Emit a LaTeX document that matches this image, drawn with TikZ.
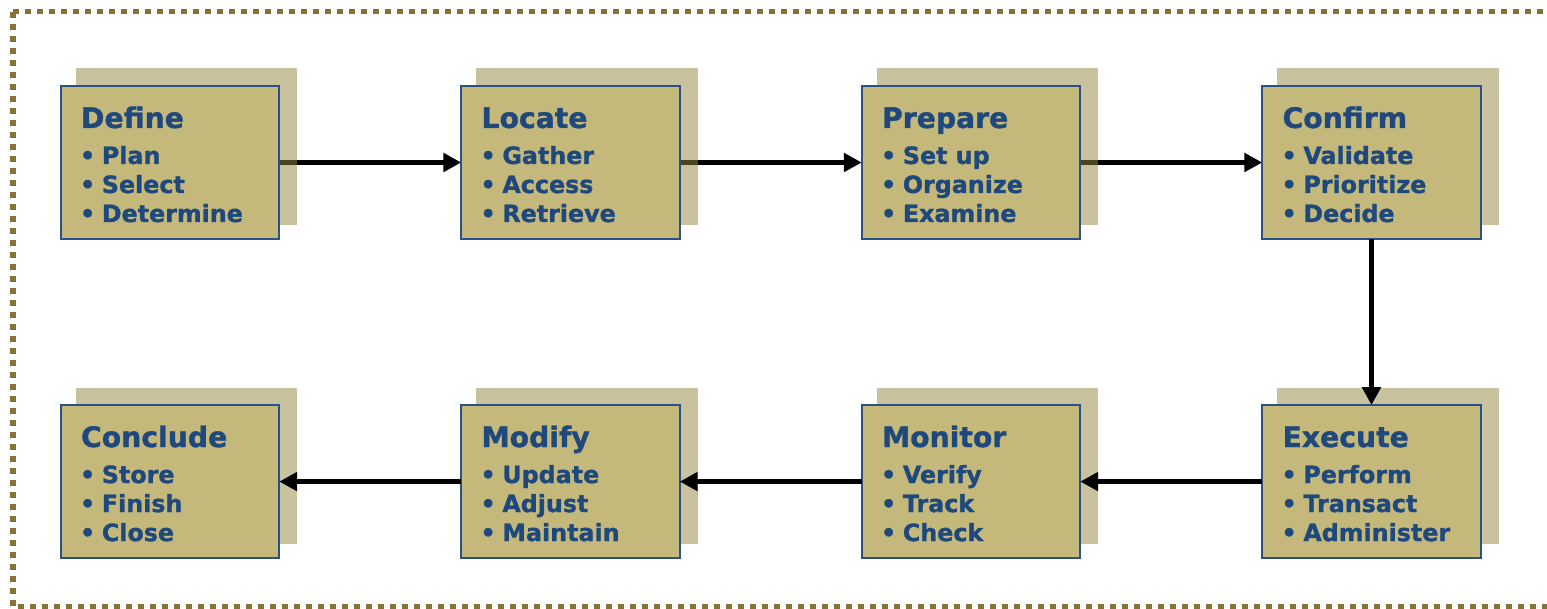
\documentclass[tikz,border=0pt]{standalone}
\usepackage{fontspec}
\setmainfont{DejaVu Sans}[BoldFeatures={FakeBold=1.2}]
\usetikzlibrary{arrows.meta}
\usetikzlibrary{positioning,calc}
\definecolor{stepFill}{RGB}{196,185,123}
\definecolor{stepShade}{RGB}{146,134,63}
\definecolor{stepBlue}{RGB}{43,82,135}
\definecolor{stepText}{RGB}{31,73,125}
\definecolor{frameBrown}{RGB}{133,114,54}
\pgfdeclarelayer{arrowlayer}
\pgfdeclarelayer{shadelayer}
\pgfsetlayers{arrowlayer,shadelayer,main}
\tikzset{stepBox/.style={rectangle,draw=stepBlue,line width=1.4pt,fill=stepFill,
		         minimum width=5.46cm,minimum height=3.825cm,inner sep=0pt,outer sep=0pt},
		stepShadow/.style={rectangle,fill=stepShade,fill opacity=0.5,
		         minimum width=5.525cm,minimum height=3.9cm,inner sep=0pt,outer sep=0pt},
		stepTitle/.style={anchor=base west,inner sep=0pt,text=stepText,
		         font=\fontsize{20.1}{24}\selectfont\bfseries},
		stepItem/.style={anchor=base west,inner sep=0pt,text=stepText,
		         font=\fontsize{16.9}{20}\selectfont\bfseries},
		Dedge/.style={-{Triangle[length=12.8pt,width=13pt]},line width=3.6pt},
		frameLine/.style={draw=frameBrown,line width=0.125cm,dash pattern=on 0.15cm off 0.15cm},
		every node/.style={align=left}}
% title, three items and the shadow of one box
\newcommand{\stepText}[5]{%
	\node[stepTitle] (#1-title) at ($(#1.north west)+(20,42)$) {#2};
	\node[stepItem] (#1-a) at ($(#1.north west)+(19,78)$) {•\hspace{0.28em}#3};
	\node[stepItem] (#1-b) at ($(#1.north west)+(19,107)$) {•\hspace{0.28em}#4};
	\node[stepItem] (#1-c) at ($(#1.north west)+(19,136)$) {•\hspace{0.28em}#5};
	\begin{pgfonlayer}{shadelayer}
		\node[stepShadow] (#1-shade) at ($(#1)+(16.5,-16)$) {};
	\end{pgfonlayer}}

\begin{document}
\begin{tikzpicture}[x=0.025cm,y=-0.025cm]
	\useasboundingbox (0,0) rectangle (1547,609);
	%frame
	\draw[frameLine] (13,12) -- (1547,12);
	\draw[frameLine] (13,12) -- (13,607) -- (1547,607);
	%boxes
	\node [stepBox] (define) at (170,162.5) {};
	\node [stepBox] (locate) [right=4.55cm of define] {};
	\node [stepBox] (prepare) [right=4.55cm of locate] {};
	\node [stepBox] (confirm) [right=4.55cm of prepare] {};
	\node [stepBox] (execute) [below=4.15cm of confirm] {};
	\node [stepBox] (monitor) [left=4.55cm of execute] {};
	\node [stepBox] (modify) [left=4.55cm of monitor] {};
	\node [stepBox] (conclude) [left=4.55cm of modify] {};
	\stepText{define}{Define}{Plan}{Select}{Determine}
	\stepText{locate}{Locate}{Gather}{Access}{Retrieve}
	\stepText{prepare}{Prepare}{Set up}{Organize}{Examine}
	\stepText{confirm}{Confirm}{Validate}{Prioritize}{Decide}
	\stepText{execute}{Execute}{Perform}{Transact}{Administer}
	\stepText{monitor}{Monitor}{Verify}{Track}{Check}
	\stepText{modify}{Modify}{Update}{Adjust}{Maintain}
	\stepText{conclude}{Conclude}{Store}{Finish}{Close}
	%edges
	\begin{pgfonlayer}{arrowlayer}
		\draw[Dedge] (define) -- (locate);
		\draw[Dedge] (locate) -- (prepare);
		\draw[Dedge] (prepare) -- (confirm);
	\end{pgfonlayer}
	\draw[Dedge] (confirm) -- (execute);
	\draw[Dedge] (execute) -- (monitor);
	\draw[Dedge] (monitor) -- (modify);
	\draw[Dedge] (modify) -- (conclude);
\end{tikzpicture}
\end{document}
